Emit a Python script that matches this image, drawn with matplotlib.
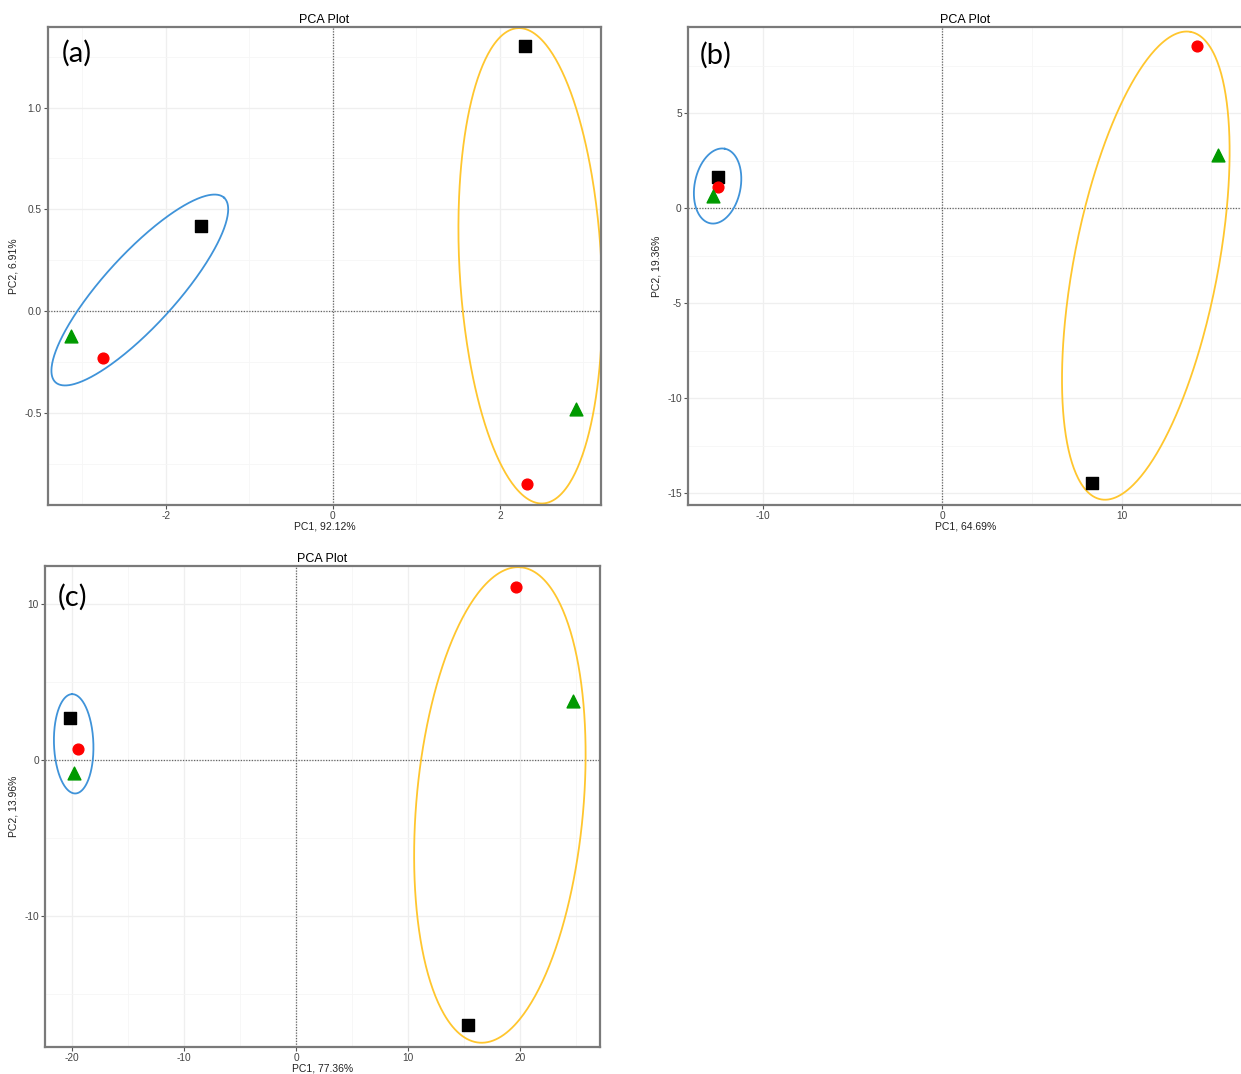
import numpy as np
import matplotlib.pyplot as plt
from matplotlib.ticker import MultipleLocator, FormatStrFormatter

# panel (a)
a_sq_x = [-1.58, 2.30]
a_sq_y = [0.418, 1.303]
a_ci_x = [-2.75, 2.32]
a_ci_y = [-0.231, -0.85]
a_tr_x = [-3.13, 2.91]
a_tr_y = [-0.123, -0.48]

# panel (b)
b_sq_x = [-12.51, 8.32]
b_sq_y = [1.63, -14.47]
b_ci_x = [-12.51, 14.19]
b_ci_y = [1.10, 8.53]
b_tr_x = [-12.79, 15.36]
b_tr_y = [0.63, 2.79]

# panel (c)
c_sq_x = [-20.18, 15.36]
c_sq_y = [2.69, -16.99]
c_ci_x = [-19.46, 19.64]
c_ci_y = [0.71, 11.09]
c_tr_x = [-19.82, 24.73]
c_tr_y = [-0.83, 3.78]

xlabels = ['PC1, 92.12%', 'PC1, 64.69%', 'PC1, 77.36%']
ylabels = ['PC2, 6.91%', 'PC2, 19.36%', 'PC2, 13.96%']
tags = ['(a)', '(b)', '(c)']

W, H = 1241, 1074
fig = plt.figure(figsize=(W / 100, H / 100), dpi=100)
plt.rcParams['font.family'] = ['Liberation Sans', 'DejaVu Sans']
plt.rcParams['axes.unicode_minus'] = False

blue = '#3f93d9'
gold = '#ffc62e'


def ring(ax, cx, cy, a, b, ang, color):
    # ellipse drawn in screen pixels around a data-space centre
    bb = ax.get_position()
    x0, x1 = ax.get_xlim()
    y0, y1 = ax.get_ylim()
    sx = bb.width * W / (x1 - x0)
    sy = bb.height * H / (y1 - y0)
    t = np.linspace(0, 2 * np.pi, 400)
    th = np.radians(ang)
    dx = a * np.cos(t) * np.cos(th) - b * np.sin(t) * np.sin(th)
    dy = a * np.cos(t) * np.sin(th) + b * np.sin(t) * np.cos(th)
    ax.plot(cx + dx / sx, cy + dy / sy, color=color, lw=1.3, zorder=2)


def panel(rect, sq, ci, tr, xlim, ylim, xmaj, ymaj, yfmt, xl, yl, tag, tagpos):
    ax = fig.add_axes(rect)
    ax.set_xlim(*xlim)
    ax.set_ylim(*ylim)
    ax.xaxis.set_major_locator(MultipleLocator(xmaj))
    ax.xaxis.set_minor_locator(MultipleLocator(xmaj / 2))
    ax.yaxis.set_major_locator(MultipleLocator(ymaj))
    ax.yaxis.set_minor_locator(MultipleLocator(ymaj / 2))
    ax.yaxis.set_major_formatter(FormatStrFormatter(yfmt))
    ax.grid(which='major', color='#efefef', lw=0.9)
    ax.grid(which='minor', color='#f6f6f6', lw=0.6)
    ax.set_axisbelow(True)
    ax.tick_params(which='major', length=3, width=0.8, color='#555555',
                   labelsize=7.3, labelcolor='#444444', pad=1.5)
    ax.tick_params(which='minor', length=0)
    for s in ax.spines.values():
        s.set_color('#7a7a7a')
        s.set_linewidth(1.6)
    ax.axhline(0, color='#666666', ls=(0, (1, 1.2)), lw=0.9, zorder=1)
    ax.axvline(0, color='#666666', ls=(0, (1, 1.2)), lw=0.9, zorder=1)
    ax.scatter(sq[0], sq[1], marker='s', s=64, color='black', zorder=3)
    ax.scatter(ci[0], ci[1], marker='o', s=60, color='#ff0000', zorder=3)
    ax.scatter(tr[0], tr[1], marker='^', s=85, color='#009a00', zorder=3)
    ax.set_title('PCA Plot', fontsize=9, pad=3)
    ax.set_xlabel(xl, fontsize=7.5, labelpad=0.5, color='#222222')
    ax.set_ylabel(yl, fontsize=7.5, labelpad=4, color='#222222')
    ax.text(tagpos[0], tagpos[1], tag, transform=ax.transAxes, fontsize=21,
            family=['Lato', 'DejaVu Sans'], ha='center', va='center')
    return ax


ax1 = panel([48 / W, 1 - 505 / H, 553 / W, 478 / H],
            (a_sq_x, a_sq_y), (a_ci_x, a_ci_y), (a_tr_x, a_tr_y),
            (-3.41, 3.21), (-0.954, 1.396), 2, 0.5, '%.1f',
            xlabels[0], ylabels[0], tags[0], (0.053, 0.945))
ring(ax1, -2.311, 0.103, 125, 36, 47.6, blue)
ring(ax1, 2.365, 0.222, 238, 71, 93, gold)

ax2 = panel([688 / W, 1 - 505 / H, 555 / W, 478 / H],
            (b_sq_x, b_sq_y), (b_ci_x, b_ci_y), (b_tr_x, b_tr_y),
            (-14.19, 16.76), (-15.63, 9.53), 10, 5, '%g',
            xlabels[1], ylabels[1], tags[1], (0.05, 0.94))
ring(ax2, -12.54, 1.16, 38, 23, 79, blue)
ring(ax2, 11.34, -3.03, 238, 72, 79.1, gold)

ax3 = panel([45 / W, 1 - 1047 / H, 555 / W, 481 / H],
            (c_sq_x, c_sq_y), (c_ci_x, c_ci_y), (c_tr_x, c_tr_y),
            (-22.41, 27.14), (-18.4, 12.44), 10, 10, '%g',
            xlabels[2], ylabels[2], tags[2], (0.05, 0.935))
ring(ax3, -19.85, 1.04, 49.7, 19.7, 92, blue)
ring(ax3, 18.2, -2.88, 238.6, 83.5, 85, gold)

fig.savefig('out.png', dpi=100)
